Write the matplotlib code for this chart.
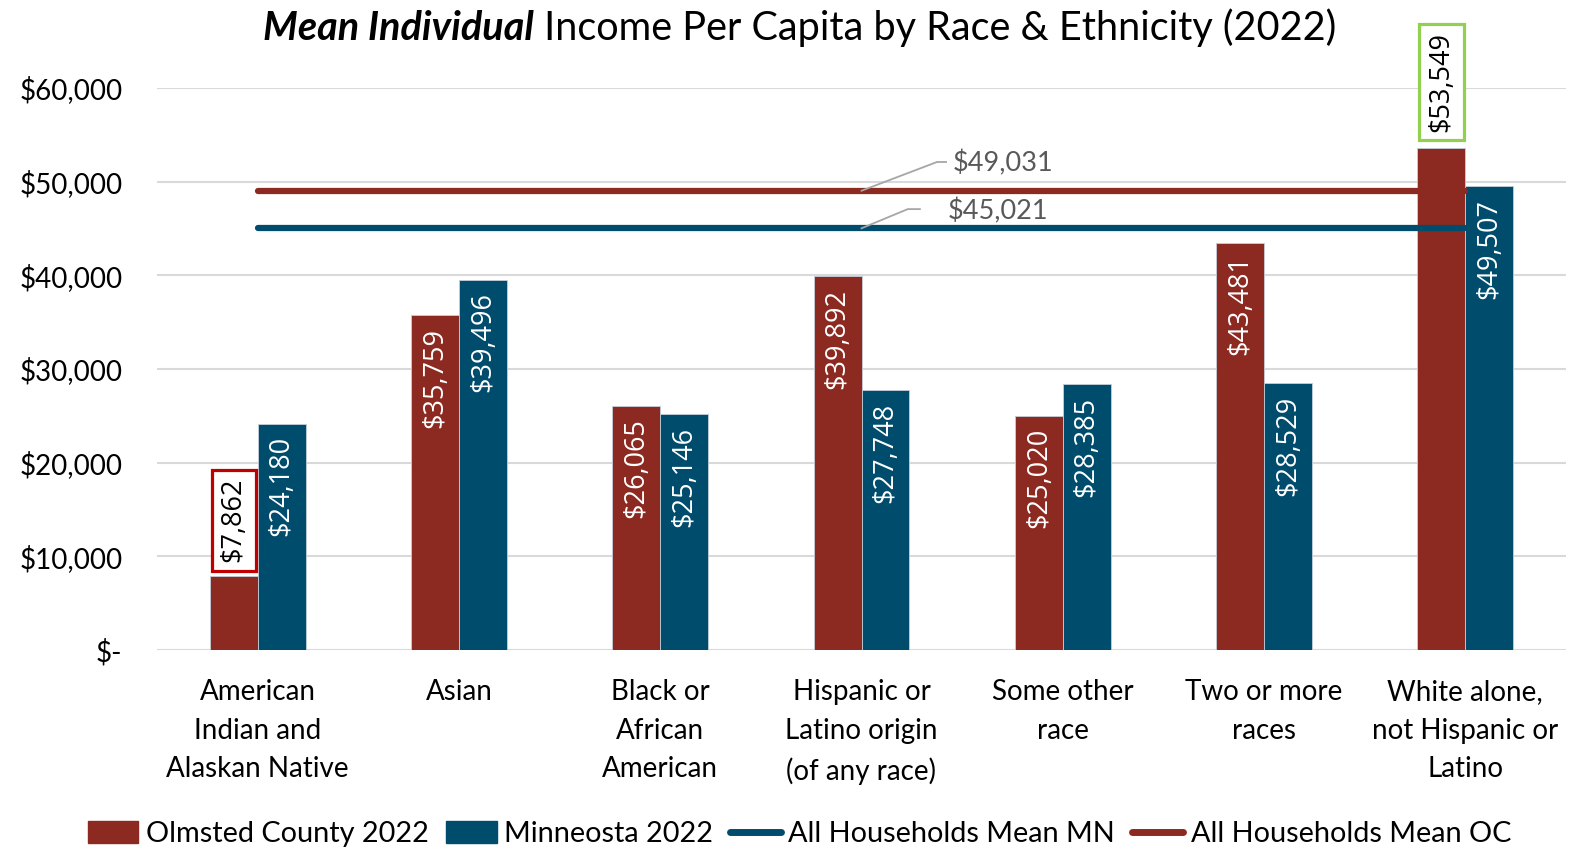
import numpy as np
import matplotlib
matplotlib.use('Agg')
import matplotlib.pyplot as plt
from matplotlib.patches import Patch
from matplotlib.lines import Line2D

# data
categories = ['American\nIndian and\nAlaskan Native', 'Asian', 'Black or\nAfrican\nAmerican',
              'Hispanic or\nLatino origin\n(of any race)', 'Some other\nrace', 'Two or more\nraces',
              'White alone,\nnot Hispanic or\nLatino']
olmsted = [7862, 35759, 26065, 39892, 25020, 43481, 53549]
minnesota = [24180, 39496, 25146, 27748, 28385, 28529, 49507]
mean_mn = 45021
mean_oc = 49031
yticks = [0, 10000, 20000, 30000, 40000, 50000, 60000]
ytick_labels = ['$-', '$10,000', '$20,000', '$30,000', '$40,000', '$50,000', '$60,000']
series_names = ['Olmsted County 2022', 'Minneosta 2022', 'All Households Mean MN', 'All Households Mean OC']

red = '#8C2A21'
blue = '#004C6D'
grey_txt = '#595959'

plt.rcParams['font.family'] = ['Lato', 'DejaVu Sans']
label_font = ['Open Sans', 'DejaVu Sans']

W, H = 1589, 847
fig = plt.figure(figsize=(W / 100, H / 100), dpi=100)
ax = fig.add_axes([157 / W, 197 / H, 1409 / W, 562 / H])

x = np.arange(len(categories))
w = 0.238
ax.bar(x - w / 2, olmsted, w, color=red, edgecolor='#c5ced8', linewidth=0.6, zorder=2)
ax.bar(x + w / 2, minnesota, w, color=blue, edgecolor='#c5ced8', linewidth=0.6, zorder=2)

# mean lines
ax.plot([x[0], x[-1]], [mean_oc, mean_oc], color=red, lw=4.5, solid_capstyle='round', zorder=3)
ax.plot([x[0], x[-1]], [mean_mn, mean_mn], color=blue, lw=4.5, solid_capstyle='round', zorder=3)

# value labels
for i in range(len(categories)):
    for xpos, v in ((x[i] - w / 2, olmsted[i]), (x[i] + w / 2, minnesota[i])):
        txt = f'${v:,}'
        if v == olmsted[0]:
            ax.annotate(txt, (xpos, v), xytext=(0, 10), textcoords='offset points',
                        rotation=90, ha='center', va='bottom', fontsize=19.5, color='black',
                        family=label_font, zorder=5,
                        bbox=dict(boxstyle='square,pad=0.3', fc='white', ec='#C00000', lw=2.3))
        elif v == olmsted[-1]:
            ax.annotate(txt, (xpos, v), xytext=(0, 12), textcoords='offset points',
                        rotation=90, ha='center', va='bottom', fontsize=19.5, color='black',
                        family=label_font, zorder=5, annotation_clip=False,
                        bbox=dict(boxstyle='square,pad=0.3', fc='white', ec='#92D050', lw=2.3))
        else:
            ax.annotate(txt, (xpos, v), xytext=(0, -9), textcoords='offset points',
                        rotation=90, ha='center', va='top', fontsize=19.5, color='white',
                        family=label_font, zorder=5)

# callouts for the mean lines
lead_x = x[3]
ax.plot([lead_x, lead_x + 0.375, lead_x + 0.42], [mean_oc, mean_oc + 3070, mean_oc + 3070],
        color='#A6A6A6', lw=1.3, zorder=4, clip_on=False)
ax.text(lead_x + 0.455, mean_oc + 2950, f'${mean_oc:,}', ha='left', va='center',
        fontsize=19.5, color=grey_txt)
ax.plot([lead_x, lead_x + 0.23, lead_x + 0.29], [mean_mn, mean_mn + 2050, mean_mn + 2050],
        color='#A6A6A6', lw=1.3, zorder=4, clip_on=False)
ax.text(lead_x + 0.43, mean_mn + 1850, f'${mean_mn:,}', ha='left', va='center',
        fontsize=19.5, color=grey_txt)

ax.set_xlim(-0.5, len(categories) - 0.5)
ax.set_ylim(0, 60000)
ax.set_yticks(yticks, ytick_labels)
ax.set_xticks(x, categories)
ax.tick_params(axis='y', length=0, pad=25, labelsize=20)
ax.tick_params(axis='x', length=0, pad=21, labelsize=20)
for lbl in ax.get_xticklabels():
    lbl.set_linespacing(1.6)
ax.yaxis.grid(True, color='#D9D9D9', lw=1.5)
ax.set_axisbelow(True)
for s in ax.spines.values():
    s.set_visible(False)

handles = [Patch(color=red), Patch(color=blue),
           Line2D([], [], color=blue, lw=5, solid_capstyle='round'),
           Line2D([], [], color=red, lw=5, solid_capstyle='round')]
fig.legend(handles, series_names, loc='center', bbox_to_anchor=(0.503, 0.015), ncol=4,
           frameon=False, fontsize=20.8, handlelength=1.76, handleheight=0.8,
           handletextpad=0.25, columnspacing=0.6)

# title with a bold italic lead
ty = 1 - 40 / H
t1 = fig.text(0, ty, 'Mean Individual', fontsize=28.5, fontweight='bold', fontstyle='italic',
              ha='left', va='baseline')
t2 = fig.text(0, ty, ' Income Per Capita by Race & Ethnicity (2022)', fontsize=28.5,
              ha='left', va='baseline')
fig.canvas.draw()
b1 = t1.get_window_extent()
b2 = t2.get_window_extent()
total = b1.width + b2.width
left = 800 - total / 2
t1.set_x(left / W)
t2.set_x((left + b1.width) / W)

fig.savefig('out.png', dpi=100)
